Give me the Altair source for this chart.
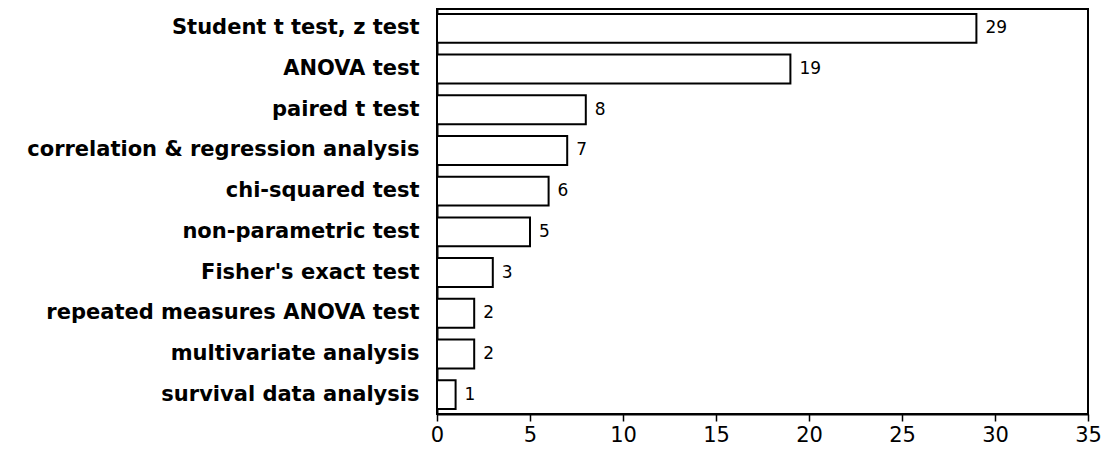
import altair as alt
import pandas as pd

categories = [
    "Student t test, z test",
    "ANOVA test",
    "paired t test",
    "correlation & regression analysis ",
    "chi-squared test",
    "non-parametric test",
    "Fisher's exact test",
    "repeated measures ANOVA test ",
    "multivariate analysis",
    "survival data analysis",
]
counts = [29, 19, 8, 7, 6, 5, 3, 2, 2, 1]
x_ticks = [0, 5, 10, 15, 20, 25, 30, 35]

df = pd.DataFrame({"test": categories, "count": counts})

y_enc = alt.Y(
    "test:N",
    sort=categories,
    title=None,
    scale=alt.Scale(paddingInner=0.29, paddingOuter=0.12),
    axis=alt.Axis(
        labelFont="DejaVu Sans",
        labelFontWeight="bold",
        labelFontSize=21,
        labelColor="black",
        labelLimit=500,
        labelPadding=18,
        ticks=False,
        domainColor="black",
        domainWidth=2,
    ),
)
x_enc = alt.X(
    "count:Q",
    title=None,
    scale=alt.Scale(domain=[0, 35], nice=False),
    axis=alt.Axis(
        values=x_ticks,
        grid=False,
        labelFlush=False,
        labelFont="DejaVu Sans",
        labelFontSize=21,
        labelColor="black",
        labelPadding=3,
        tickColor="black",
        tickSize=7,
        tickWidth=1.5,
        domainColor="black",
        domainWidth=2,
    ),
)

bars = alt.Chart(df).mark_bar(
    fill="white", stroke="black", strokeWidth=2
).encode(y=y_enc, x=x_enc)

labels = alt.Chart(df).mark_text(
    align="left", baseline="middle", dx=9, font="DejaVu Sans", fontSize=17, color="black"
).encode(y=alt.Y("test:N", sort=categories), x="count:Q", text="count:Q")

chart = (
    alt.layer(bars, labels)
    .properties(
        width=651,
        height=405,
        background="white",
        autosize=alt.AutoSizeParams(type="none"),
        padding={"left": 429, "top": 1, "right": 14, "bottom": 36},
    )
    .configure_view(stroke="black", strokeWidth=2)
)

chart.save("out.html", embed_options={"renderer": "svg", "actions": False})
